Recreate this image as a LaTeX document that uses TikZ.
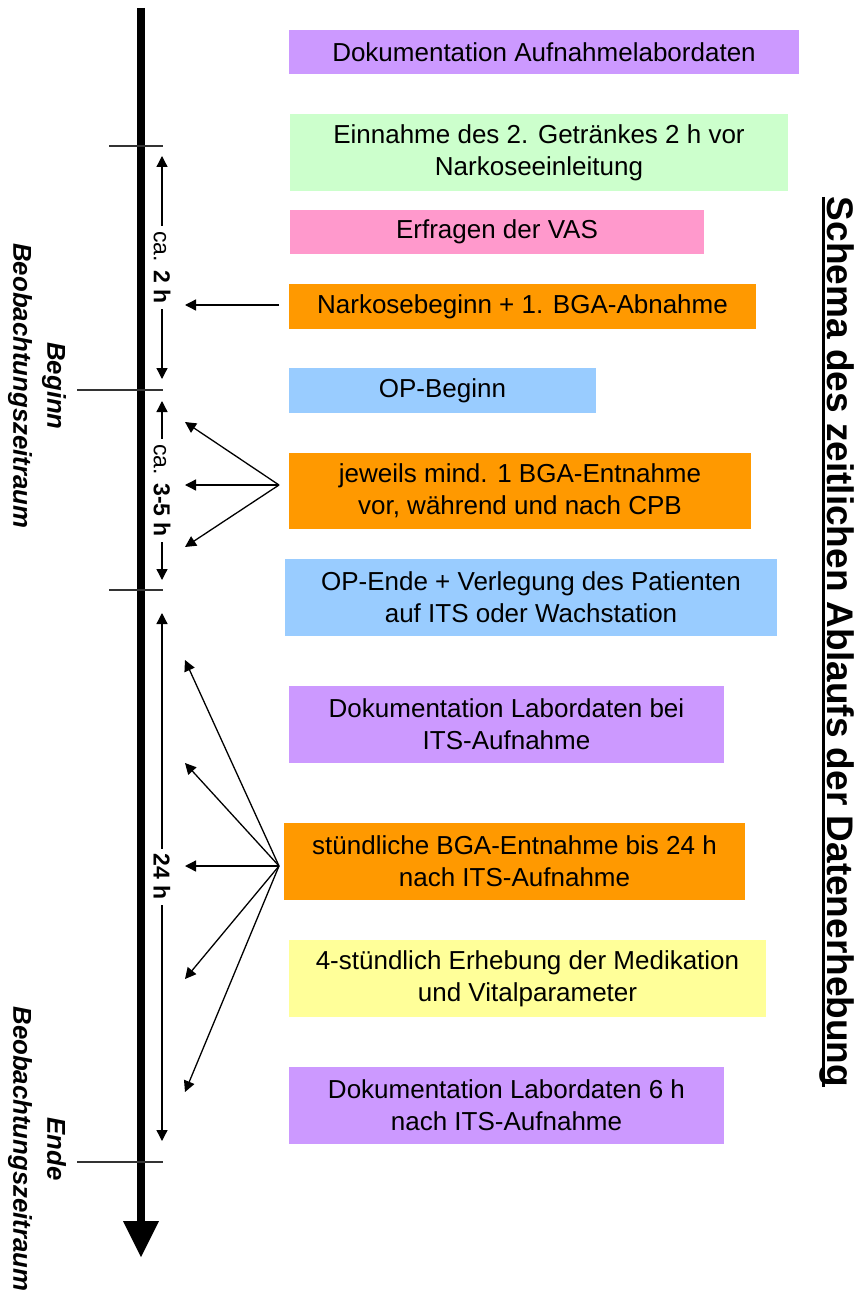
\documentclass[tikz,border=0pt]{standalone}
\usepackage{fontspec}
\setmainfont{Liberation Sans}
\usetikzlibrary{arrows.meta}
\definecolor{cpurple}{HTML}{CC99FF}
\definecolor{cgreen}{HTML}{CCFFCC}
\definecolor{cpink}{HTML}{FF99CC}
\definecolor{corange}{HTML}{FF9900}
\definecolor{cblue}{HTML}{99CCFF}
\definecolor{cyellow}{HTML}{FFFF99}
\definecolor{ctick}{HTML}{333333}
\newcommand\thickul[1]{\setbox0\hbox{#1}\rlap{\rule[-5pt]{\wd0}{2.6pt}}\box0}
\begin{document}
\begin{tikzpicture}[x=1pt,y=-1pt,
  infobox/.style={inner sep=0pt, align=center, font=\fontsize{26}{32}\selectfont},
  tipa/.style={-{Triangle[length=11pt,width=11pt]}, line width=1.3pt},
  dimarr/.style={{Triangle[length=11pt,width=11pt]}-{Triangle[length=11pt,width=11pt]}, line width=1.3pt},
  dimlabel/.style={fill=white, rotate=-90, inner xsep=5pt, inner ysep=1pt, font=\fontsize{23}{25}\selectfont},
  tickline/.style={line width=1.6pt, draw=ctick},
  sidelabel/.style={rotate=-90, align=center, font=\fontsize{25.8}{34}\selectfont\bfseries\itshape}]
\useasboundingbox (0,0) rectangle (862,1292);

% boxes
\node[infobox, fill=cpurple, minimum width=510pt, minimum height=44pt] (b1) at (544,52) {Dokumentation Aufnahmelabordaten};
\node[infobox, fill=cgreen, minimum width=498pt, minimum height=77pt] (b2) at (539,152.5) {Einnahme des 2. Getränkes 2 h vor\\Narkoseeinleitung};
\node[infobox, fill=cpink, minimum width=414pt, minimum height=44pt] (b3) at (497,232) {Erfragen der VAS};
\node[infobox, fill=corange, minimum width=467pt, minimum height=45pt] (b4) at (522.5,306.5) {Narkosebeginn + 1. BGA-Abnahme};
\node[infobox, fill=cblue, minimum width=307pt, minimum height=45pt] (b5) at (442.5,390.5) {OP-Beginn};
\node[infobox, fill=corange, minimum width=462pt, minimum height=76pt] (b6) at (520,491) {jeweils mind. 1 BGA-Entnahme\\vor, während und nach CPB};
\node[infobox, fill=cblue, minimum width=492pt, minimum height=77pt] (b7) at (531,597.5) {OP-Ende + Verlegung des Patienten\\auf ITS oder Wachstation};
\node[infobox, fill=cpurple, minimum width=435pt, minimum height=77pt] (b8) at (506.5,724.5) {Dokumentation Labordaten bei\\ITS-Aufnahme};
\node[infobox, fill=corange, minimum width=461pt, minimum height=77pt] (b9) at (514.5,861.5) {stündliche BGA-Entnahme bis 24 h\\nach ITS-Aufnahme};
\node[infobox, fill=cyellow, minimum width=477pt, minimum height=77pt] (b10) at (527.5,978.5) {4-stündlich Erhebung der Medikation\\und Vitalparameter};
\node[infobox, fill=cpurple, minimum width=435pt, minimum height=77pt] (b11) at (506.5,1105.5) {Dokumentation Labordaten 6 h\\nach ITS-Aufnahme};

% timeline
\coordinate (tltop) at (141,8);
\coordinate (tlbase) at (141,1221);
\coordinate (tlL) at (123,1221);
\coordinate (tlR) at (159,1221);
\coordinate (tltip) at (141,1257);
\draw[line width=8pt] (tltop) -- (tlbase);
\fill (tlL) -- (tlR) -- (tltip) -- cycle;

% ticks
\coordinate (t1a) at (109,146); \coordinate (t1b) at (163,146);
\coordinate (t2a) at (77,390);  \coordinate (t2b) at (163,390);
\coordinate (t3a) at (109,590); \coordinate (t3b) at (163,590);
\coordinate (t4a) at (77,1162); \coordinate (t4b) at (163,1162);
\draw[tickline] (t1a) -- (t1b);
\draw[tickline] (t2a) -- (t2b);
\draw[tickline] (t3a) -- (t3b);
\draw[tickline] (t4a) -- (t4b);

% dimension arrows
\coordinate (d1a) at (162,156); \coordinate (d1b) at (162,379);
\coordinate (d2a) at (162,401); \coordinate (d2b) at (162,580);
\coordinate (d3a) at (162,613); \coordinate (d3b) at (162,1141);
\draw[dimarr] (d1a) -- (d1b) node[midway, dimlabel] (l1) {ca. \textbf{2 h}};
\draw[dimarr] (d2a) -- (d2b) node[midway, dimlabel] (l2) {ca. \textbf{3-5 h}};
\draw[dimarr] (d3a) -- (d3b) node[midway, dimlabel] (l3) {\textbf{24 h}};

% pointer arrows
\coordinate (o4) at (279,305);
\coordinate (p4) at (185,305);
\draw[tipa] (o4) -- (p4);

\coordinate (o6) at (279,485);
\coordinate (p6a) at (185,422);
\coordinate (p6b) at (185,485);
\coordinate (p6c) at (185,547);
\draw[tipa] (o6) -- (p6a);
\draw[tipa] (o6) -- (p6b);
\draw[tipa] (o6) -- (p6c);

\coordinate (o9) at (279,866);
\coordinate (p9a) at (185,660);
\coordinate (p9b) at (185,763);
\coordinate (p9c) at (185,866);
\coordinate (p9d) at (185,979);
\coordinate (p9e) at (185,1092);
\draw[tipa] (o9) -- (p9a);
\draw[tipa] (o9) -- (p9b);
\draw[tipa] (o9) -- (p9c);
\draw[tipa] (o9) -- (p9d);
\draw[tipa] (o9) -- (p9e);

% side labels
\node[sidelabel] (beg) at (37,386) {Beginn\\Beobachtungszeitraum};
\node[sidelabel] (end) at (37,1149) {Ende\\Beobachtungszeitraum};

% title
\node[rotate=-90, anchor=base, inner sep=0pt, font=\fontsize{37}{40}\selectfont\bfseries] (title) at (827,642) {\thickul{Schema des zeitlichen Ablaufs der Datenerhebung}};
\end{tikzpicture}
\end{document}
